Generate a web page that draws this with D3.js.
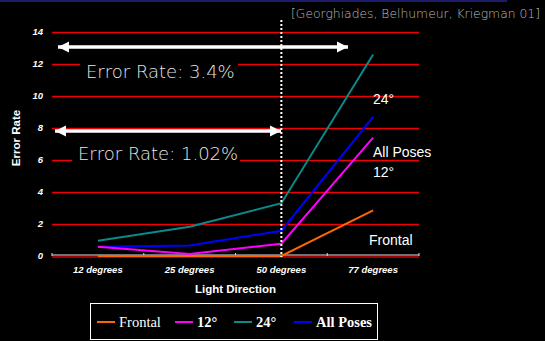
<!DOCTYPE html>
<html>
<head>
<meta charset="utf-8">
<script src="https://cdn.jsdelivr.net/npm/d3@7"></script>
<style>
  html, body { margin: 0; padding: 0; background: #000; }
  svg { display: block; }
</style>
</head>
<body>
<div id="chart"></div>
<script>
// data
const categories = ['12 degrees', '25 degrees', '50 degrees', '77 degrees'];
const seriesNames = ['Frontal', '12°', '24°', 'All Poses'];
const frontal = [0, 0, 0, 2.85];
const pose12 = [0.58, 0.12, 0.77, 7.4];
const pose24 = [0.95, 1.83, 3.3, 12.6];
const allPoses = [0.58, 0.65, 1.58, 8.7];
const yTicks = [0, 2, 4, 6, 8, 10, 12, 14];
const colors = ['#ff6600', '#ff00ff', '#0a8a8a', '#0000ff'];

const W = 545, H = 341;
const margin = {top: 32, right: 126, bottom: 85, left: 52};
const w = W - margin.left - margin.right;
const h = H - margin.top - margin.bottom;

const svg = d3.select('#chart').append('svg')
  .attr('width', W)
  .attr('height', H)
  .style('background', '#000');

// thin navy bar on top
svg.append('rect')
  .attr('x', 0).attr('y', 0).attr('width', 507).attr('height', 2)
  .attr('fill', '#1c1c6a');

const g = svg.append('g').attr('transform', `translate(${margin.left},${margin.top})`);

const xScale = d3.scaleBand().domain(categories).range([0, w]);
const xMid = d => xScale(d) + xScale.bandwidth() / 2;
const yScale = d3.scaleLinear().domain([0, 14]).range([h, 0]);

// gridlines
g.append('g').selectAll('line')
  .data(yTicks.filter(t => t > 0))
  .enter().append('line')
    .attr('x1', 0).attr('x2', w)
    .attr('y1', d => yScale(d) + 0.5).attr('y2', d => yScale(d) + 0.5)
    .attr('stroke', '#f00000')
    .attr('stroke-width', 1.4);

// zero line (dark red under grey axis)
g.append('line')
  .attr('x1', 0).attr('x2', w)
  .attr('y1', yScale(0) + 1).attr('y2', yScale(0) + 1)
  .attr('stroke', '#a00000').attr('stroke-width', 2);
g.append('line')
  .attr('x1', 0).attr('x2', w)
  .attr('y1', yScale(0) - 1).attr('y2', yScale(0) - 1)
  .attr('stroke', '#999').attr('stroke-width', 1.5);

// x axis tick marks at band edges
const edges = categories.map(c => xScale(c)).concat([w]);
g.append('g').selectAll('line')
  .data(edges)
  .enter().append('line')
    .attr('x1', d => d).attr('x2', d => d)
    .attr('y1', yScale(0) - 3).attr('y2', yScale(0))
    .attr('stroke', '#ddd').attr('stroke-width', 1);

// y tick labels
g.append('g').selectAll('text')
  .data(yTicks)
  .enter().append('text')
    .attr('x', -9)
    .attr('y', d => yScale(d))
    .attr('dy', '0.35em')
    .attr('text-anchor', 'end')
    .attr('fill', '#fff')
    .style('font', 'italic bold 9.5px "Liberation Sans", Arial, sans-serif')
    .text(d => d);

// x tick labels
g.append('g').selectAll('text')
  .data(categories)
  .enter().append('text')
    .attr('x', d => xMid(d))
    .attr('y', h + 17)
    .attr('text-anchor', 'middle')
    .attr('fill', '#fff')
    .style('font', 'italic bold 9.5px "Liberation Sans", Arial, sans-serif')
    .text(d => d);

// axis titles
g.append('text')
  .attr('x', w / 2)
  .attr('y', h + 37)
  .attr('text-anchor', 'middle')
  .attr('fill', '#fff')
  .style('font', 'bold 11.5px "Liberation Sans", Arial, sans-serif')
  .text('Light Direction');

svg.append('text')
  .attr('transform', 'translate(20,138) rotate(-90)')
  .attr('text-anchor', 'middle')
  .attr('fill', '#fff')
  .style('font', 'bold 11.5px "Liberation Sans", Arial, sans-serif')
  .text('Error Rate');

// series lines
const allSeries = [frontal, pose12, pose24, allPoses];
const line = d3.line()
  .x((d, i) => xMid(categories[i]))
  .y(d => yScale(d));

// draw teal first, then blue, magenta, orange on top
[2, 3, 1, 0].forEach(k => {
  g.append('path')
    .attr('d', line(allSeries[k]))
    .attr('fill', 'none')
    .attr('stroke', colors[k])
    .attr('stroke-width', 2);
});

// annotations: arrows and text
const defs = svg.append('defs');
function arrowHead(id, orient) {
  defs.append('marker')
    .attr('id', id)
    .attr('viewBox', '0 0 10 10')
    .attr('refX', 10).attr('refY', 5)
    .attr('markerWidth', 3.2).attr('markerHeight', 3.2)
    .attr('markerUnits', 'strokeWidth')
    .attr('orient', orient)
    .append('path')
      .attr('d', 'M0,0 L10,5 L0,10 Z')
      .attr('fill', '#fff');
}
arrowHead('arrEnd', 'auto');
arrowHead('arrStart', 'auto-start-reverse');

function textBlock(x, baseline, bx0, bx1, label) {
  svg.append('rect')
    .attr('x', bx0).attr('y', baseline - 18)
    .attr('width', bx1 - bx0).attr('height', 24)
    .attr('fill', '#000');
  svg.append('text')
    .attr('x', x).attr('y', baseline)
    .attr('fill', '#e6e6e6')
    .style('font', '300 18px "DejaVu Sans", sans-serif')
    .text(label);
}
textBlock(86, 78, 80, 238, 'Error Rate: 3.4%');
textBlock(78, 160, 72, 240, 'Error Rate: 1.02%');

function arrow(x1, x2, y) {
  svg.append('line')
    .attr('x1', x1).attr('x2', x2)
    .attr('y1', y).attr('y2', y)
    .attr('stroke', '#fff')
    .attr('stroke-width', 3.5)
    .attr('marker-start', 'url(#arrStart)')
    .attr('marker-end', 'url(#arrEnd)');
}
arrow(58, 348, 47);
arrow(55, 281, 131);

// dotted vertical divider at 50 degrees
svg.append('line')
  .attr('x1', margin.left + xMid('50 degrees'))
  .attr('x2', margin.left + xMid('50 degrees'))
  .attr('y1', 20).attr('y2', margin.top + h + 1)
  .attr('stroke', '#fff')
  .attr('stroke-width', 2)
  .attr('stroke-dasharray', '2,2');

// citation
svg.append('text')
  .attr('x', 291).attr('y', 18)
  .attr('fill', '#bbb')
  .attr('textLength', 249)
  .attr('lengthAdjust', 'spacingAndGlyphs')
  .style('font', '300 12.5px "DejaVu Sans", sans-serif')
  .text('[Georghiades, Belhumeur, Kriegman 01]');

// series labels at the right end
const endLabels = [
  {name: 'Frontal', x: 369, y: 245},
  {name: '12°', x: 373, y: 177},
  {name: '24°', x: 373, y: 104},
  {name: 'All Poses', x: 373, y: 157}
];
svg.append('g').selectAll('text')
  .data(endLabels)
  .enter().append('text')
    .attr('x', d => d.x).attr('y', d => d.y)
    .attr('fill', '#fff')
    .style('font', '14px "Liberation Sans", Arial, sans-serif')
    .text(d => d.name);

// legend
const legend = svg.append('g');
legend.append('rect')
  .attr('x', 90.5).attr('y', 303.5)
  .attr('width', 287).attr('height', 36)
  .attr('fill', '#000')
  .attr('stroke', '#fff')
  .attr('stroke-width', 1);
const legendX = [97, 175, 234, 294];
seriesNames.forEach((name, i) => {
  legend.append('line')
    .attr('x1', legendX[i]).attr('x2', legendX[i] + 18)
    .attr('y1', 322).attr('y2', 322)
    .attr('stroke', colors[i]).attr('stroke-width', 2);
  legend.append('text')
    .attr('x', legendX[i] + 22).attr('y', 327)
    .attr('fill', '#fff')
    .style('font', (i === 0 ? 'normal' : 'bold') + ' 14.5px "Liberation Serif", "Times New Roman", serif')
    .text(name);
});
</script>
</body>
</html>
